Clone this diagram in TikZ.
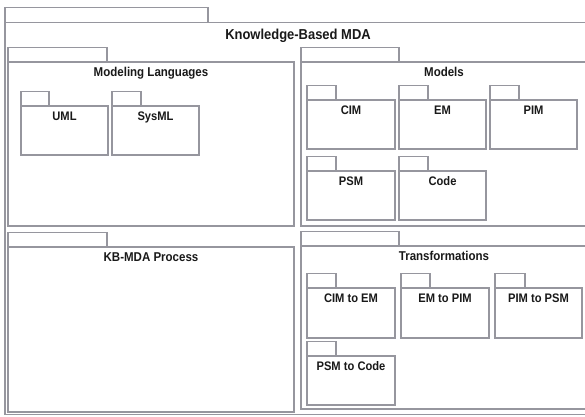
\documentclass[tikz,border=0pt]{standalone}
\usepackage{fontspec}
\setmainfont{Liberation Sans}
\definecolor{pkggray}{RGB}{150,150,158}
\definecolor{pkgtext}{RGB}{25,25,25}
\tikzset{pkgline/.style={draw=pkggray, line width=1.1pt}}
\tikzset{pkgtitle/.style={text=pkgtext, inner sep=0pt, font=\bfseries\fontsize{12.4}{14}\selectfont}}
\tikzset{bigtitle/.style={pkgtitle, font=\bfseries\fontsize{12.8}{15}\selectfont}}
\newcommand\narrow[1]{\scalebox{0.9}[1]{#1}}
% package: name, x1, y1, x2, y2, tab width, style, title
\newcommand\umlpkg[8]{%
  \draw[pkgline] (#2,#3) rectangle (#4,#5);
  \draw[pkgline] (#2,#3) rectangle ++(#6,-14.5);
  \node[#7, anchor=base] (#1) at ({(#2+#4)/2},{#3+14.5}) {\narrow{#8}};
}

\begin{document}
\begin{tikzpicture}[x=1pt, y=-1pt]
	    \clip (0,0) rectangle (585,416);
	    \fill[white] (0,0) rectangle (585,416);

	    % outer package
	    \draw[pkgline] (5,22.5) rectangle (591,414.5);
	    \draw[pkgline] (5,22.5) rectangle (208,7.5);
	    \node[pkgtitle, anchor=base, font=\bfseries\fontsize{14.4}{16}\selectfont] (kbmda) at (298,39) {\narrow{Knowledge-Based MDA}};

	    % modeling languages
	    \umlpkg{modlang}{8}{62}{294}{226}{99}{bigtitle}{Modeling Languages}
	    \umlpkg{uml}{21}{106}{108}{155}{28}{pkgtitle}{UML}
	    \umlpkg{sysml}{112}{106}{199}{155}{29}{pkgtitle}{SysML}

	    % models
	    \umlpkg{models}{301}{62}{587}{226}{98}{bigtitle}{Models}
	    \umlpkg{cim}{307}{100}{395}{149}{29}{pkgtitle}{CIM}
	    \umlpkg{em}{399}{100}{486}{149}{29}{pkgtitle}{EM}
	    \umlpkg{pim}{490}{100}{577}{149}{29}{pkgtitle}{PIM}
	    \umlpkg{psm}{307}{171}{395}{220}{29}{pkgtitle}{PSM}
	    \umlpkg{code}{399}{171}{486}{220}{29}{pkgtitle}{Code}

	    % process
	    \umlpkg{process}{8}{247}{294}{412}{99}{bigtitle}{KB-MDA Process}

	    % transformations
	    \umlpkg{trans}{301}{246}{587}{409}{98}{bigtitle}{Transformations}
	    \umlpkg{cimtoem}{307}{288}{395}{338}{29}{pkgtitle}{CIM to EM}
	    \umlpkg{emtopim}{401}{288}{489}{338}{29}{pkgtitle}{EM to PIM}
	    \umlpkg{pimtopsm}{495}{288}{582}{338}{30}{pkgtitle}{PIM to PSM}
	    \umlpkg{psmtocode}{307}{356}{395}{405}{29}{pkgtitle}{PSM to Code}
	\end{tikzpicture}
\end{document}
